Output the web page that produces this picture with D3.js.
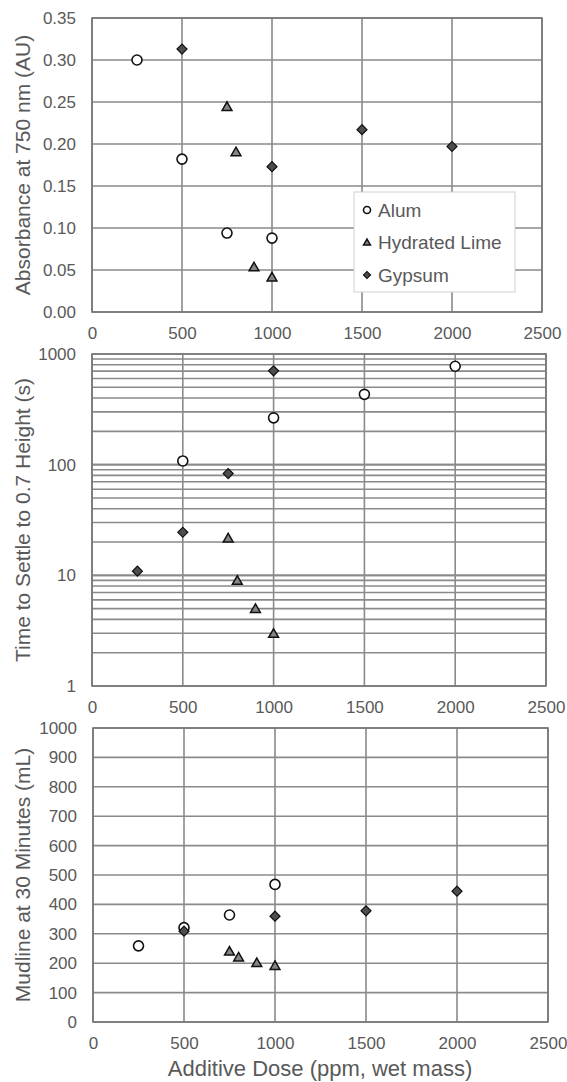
<!DOCTYPE html>
<html>
<head>
<meta charset="utf-8">
<script src="https://cdn.jsdelivr.net/npm/d3@7"></script>
<style>
  body { margin: 0; background: #fff; }
  text { font-family: "Liberation Sans", Arial, sans-serif; fill: #595959; }
</style>
</head>
<body>
<div id="chart"></div>
<script>
// x ticks shared by all three panels
const doseTicks = [0, 500, 1000, 1500, 2000, 2500];

// Panel 1: absorbance at 750 nm
const absAlum = [[250, 0.300], [500, 0.182], [750, 0.094], [1000, 0.088]];
const absLime = [[750, 0.244], [800, 0.190], [900, 0.053], [1000, 0.041]];
const absGypsum = [[500, 0.313], [1000, 0.173], [1500, 0.217], [2000, 0.197]];
const absTicks = [0, 0.05, 0.10, 0.15, 0.20, 0.25, 0.30, 0.35];

// Panel 2: time to settle (log scale)
const settleAlum = [[500, 108], [1000, 265], [1500, 432], [2000, 775]];
const settleLime = [[750, 21.5], [800, 8.9], [900, 4.95], [1000, 2.95]];
const settleGypsum = [[250, 10.9], [500, 24.5], [750, 83], [1000, 705]];
const settleTicks = [1, 10, 100, 1000];

// Panel 3: mudline at 30 minutes
const mudAlum = [[250, 259], [500, 321], [750, 364], [1000, 468]];
const mudLime = [[750, 239], [800, 219], [900, 200], [1000, 190]];
const mudGypsum = [[500, 309], [1000, 360], [1500, 378], [2000, 445]];
const mudTicks = [0, 100, 200, 300, 400, 500, 600, 700, 800, 900, 1000];

const seriesNames = ["Alum", "Hydrated Lime", "Gypsum"];

const W = 567, H = 1082;
const svg = d3.select("#chart").append("svg")
    .attr("width", W)
    .attr("height", H);

const gridColor = "#8a8a8a";

// marker drawing
function marker(g, kind, size) {
    if (kind === "Alum") {
        g.append("circle").attr("r", size / 2)
            .attr("fill", "#fff").attr("stroke", "#111").attr("stroke-width", 1.6);
    } else if (kind === "Hydrated Lime") {
        g.append("path").attr("d", d3.symbol(d3.symbolTriangle, size * size * 0.42)())
            .attr("transform", "translate(0,0.5)")
            .attr("fill", "#858585").attr("stroke", "#111").attr("stroke-width", 1.5);
    } else {
        g.append("path").attr("d", d3.symbol(d3.symbolSquare, size * size * 0.5)())
            .attr("transform", "rotate(45)")
            .attr("fill", "#4d4d4d").attr("stroke", "#111").attr("stroke-width", 1.2);
    }
}

function panel(cfg) {
    const x = d3.scaleLinear().domain([0, 2500]).range([cfg.left, cfg.right]);
    const y = cfg.log
        ? d3.scaleLog().domain([1, 1000]).range([cfg.bottom, cfg.top])
        : d3.scaleLinear().domain(cfg.yDomain).range([cfg.bottom, cfg.top]);

    const g = svg.append("g");

    // horizontal gridlines
    let hLines = cfg.yTicks;
    if (cfg.log) {
        hLines = [];
        [1, 10, 100].forEach(d => { for (let k = 1; k <= 10; k++) hLines.push(d * k); });
    }
    g.append("g").selectAll("line")
        .data(hLines)
        .join("line")
        .attr("x1", cfg.left).attr("x2", cfg.right)
        .attr("y1", d => y(d)).attr("y2", d => y(d))
        .attr("stroke", gridColor).attr("stroke-width", 1.6);

    // vertical gridlines
    g.append("g").selectAll("line")
        .data(doseTicks)
        .join("line")
        .attr("x1", d => x(d)).attr("x2", d => x(d))
        .attr("y1", cfg.top).attr("y2", cfg.bottom)
        .attr("stroke", gridColor).attr("stroke-width", 1.6);

    // frame
    g.append("rect")
        .attr("x", cfg.left).attr("y", cfg.top)
        .attr("width", cfg.right - cfg.left).attr("height", cfg.bottom - cfg.top)
        .attr("fill", "none").attr("stroke", "#777").attr("stroke-width", 1.6);

    // y axis
    const yAxis = g.append("g")
        .attr("transform", `translate(${cfg.left},0)`)
        .call(d3.axisLeft(y).tickValues(cfg.yTicks).tickFormat(cfg.fmt).tickSize(0).tickPadding(16));
    yAxis.select(".domain").remove();
    yAxis.selectAll("text").style("font-size", "17px").attr("fill", "#595959");

    // x axis
    const xAxis = g.append("g")
        .attr("transform", `translate(0,${cfg.bottom})`)
        .call(d3.axisBottom(x).tickValues(doseTicks).tickFormat(d3.format("d")).tickSize(0).tickPadding(15));
    xAxis.select(".domain").remove();
    xAxis.selectAll("text").style("font-size", "17px").attr("fill", "#595959");

    // y title
    g.append("text")
        .attr("transform", `translate(22,${(cfg.top + cfg.bottom) / 2}) rotate(-90)`)
        .attr("text-anchor", "middle")
        .attr("dominant-baseline", "central")
        .style("font-size", "21px")
        .text(cfg.title);

    // points
    cfg.series.forEach((s, i) => {
        g.append("g").selectAll("g")
            .data(s)
            .join("g")
            .attr("transform", d => `translate(${x(d[0])},${y(d[1])})`)
            .each(function () { marker(d3.select(this), seriesNames[i], 10); });
    });
    return g;
}

panel({
    left: 92, right: 542, top: 18, bottom: 312,
    yDomain: [0, 0.35], yTicks: absTicks, fmt: d3.format(".2f"),
    title: "Absorbance at 750 nm (AU)",
    series: [absAlum, absLime, absGypsum]
});

panel({
    left: 92, right: 546, top: 354, bottom: 686,
    log: true, yTicks: settleTicks, fmt: d3.format("d"),
    title: "Time to Settle to 0.7 Height (s)",
    series: [settleAlum, settleLime, settleGypsum]
});

panel({
    left: 93, right: 548, top: 728, bottom: 1022,
    yDomain: [0, 1000], yTicks: mudTicks, fmt: d3.format("d"),
    title: "Mudline at 30 Minutes (mL)",
    series: [mudAlum, mudLime, mudGypsum]
});

// legend in panel 1
const legend = svg.append("g").attr("transform", "translate(354,192)");
legend.append("rect")
    .attr("width", 161).attr("height", 100)
    .attr("fill", "#fff").attr("stroke", "#d0d0d0").attr("stroke-width", 1);
seriesNames.forEach((name, i) => {
    const row = legend.append("g").attr("transform", `translate(13,${18 + i * 32.5})`);
    marker(row.append("g"), name, 7);
    row.append("text")
        .attr("x", 11).attr("y", 0)
        .attr("dominant-baseline", "central")
        .style("font-size", "19px")
        .text(name);
});

// bottom axis title
svg.append("text")
    .attr("x", 320).attr("y", 1076)
    .attr("text-anchor", "middle")
    .style("font-size", "22px")
    .text("Additive Dose (ppm, wet mass)");
</script>
</body>
</html>
